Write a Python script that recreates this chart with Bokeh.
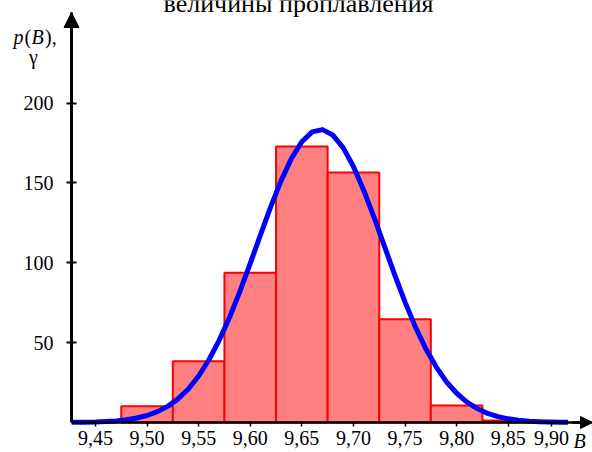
from bokeh.plotting import figure
from bokeh.models import Range1d, FixedTicker, Arrow, NormalHead, Label
from bokeh.embed import file_html
from bokeh.resources import INLINE

# ---- data ----
bin_centers = [9.50, 9.55, 9.60, 9.65, 9.70, 9.75, 9.80, 9.85]
bin_heights = [10.2, 38.4, 93.7, 172.8, 156.5, 64.7, 10.6, 1.3]
bin_width = 0.05

curve_b = [9.427, 9.44, 9.45, 9.46, 9.47, 9.48, 9.49, 9.50, 9.51, 9.52, 9.53, 9.54,
           9.55, 9.56, 9.57, 9.58, 9.59, 9.60, 9.61, 9.62, 9.63, 9.64, 9.65, 9.66,
           9.67, 9.68, 9.69, 9.70, 9.71, 9.72, 9.73, 9.74, 9.75, 9.76, 9.77, 9.78,
           9.79, 9.80, 9.81, 9.82, 9.83, 9.84, 9.85, 9.86, 9.87, 9.88, 9.89, 9.90, 9.908]
curve_p = [0.1, 0.2, 0.3, 0.6, 1.0, 1.7, 2.8, 4.4, 6.8, 10.1, 14.8, 21.0,
           29.1, 39.3, 51.6, 65.9, 82.1, 99.6, 117.6, 135.3, 151.6, 165.4, 175.8, 182.0,
           183.4, 180.0, 172.1, 160.3, 145.3, 128.4, 110.4, 92.5, 75.4, 59.9, 46.4, 35.0,
           25.6, 18.3, 12.8, 8.7, 5.7, 3.7, 2.3, 1.4, 0.8, 0.5, 0.3, 0.15, 0.1]

x_ticks = [9.45, 9.50, 9.55, 9.60, 9.65, 9.70, 9.75, 9.80, 9.85, 9.892]
x_tick_labels = ["9,45", "9,50", "9,55", "9,60", "9,65", "9,70", "9,75", "9,80", "9,85", "9,90"]
y_ticks = [50, 100, 150, 200]
y_tick_labels = ["50", "100", "150", "200"]

title_text = "величины проплавления"

# plotting window (frame covers whole canvas; axes sit at fixed locations)
X_LO, X_HI = 9.35800, 9.93165
Y_LO, Y_HI = -18.785, 264.25
X_AXIS_AT = 9.4268      # where the vertical axis crosses
Y_AXIS_TOP = 256.7      # tip of the vertical arrow

FONT = "'Liberation Serif', 'Times New Roman', 'DejaVu Serif', serif"

p = figure(width=592, height=452, output_backend="svg", toolbar_location=None,
           x_range=Range1d(X_LO, X_HI), y_range=Range1d(Y_LO, Y_HI),
           min_border=0, min_border_left=0, min_border_right=0,
           min_border_top=0, min_border_bottom=0)
p.outline_line_color = None
p.xgrid.visible = False
p.ygrid.visible = False
p.background_fill_color = "white"
p.border_fill_color = "white"

p.vbar(x=bin_centers, top=bin_heights, bottom=0, width=bin_width,
       fill_color="#FF8080", line_color="#FF0000", line_width=2)
p.line(curve_b, curve_p, line_color="#0000FF", line_width=5, line_join="round")

# axes
xa = p.xaxis[0]
xa.fixed_location = 0
xa.bounds = (X_AXIS_AT, X_HI)
xa.ticker = FixedTicker(ticks=x_ticks)
xa.major_label_overrides = {t: l for t, l in zip(x_ticks, x_tick_labels)}
xa.minor_tick_line_color = None
xa.major_tick_in = 0
xa.major_tick_out = 4
xa.major_tick_line_width = 1.5
xa.major_tick_line_color = "black"
xa.axis_line_width = 2.5
xa.axis_line_color = "black"
xa.major_label_standoff = 4
xa.major_label_text_font = FONT
xa.major_label_text_font_size = "20px"
xa.major_label_text_color = "black"

ya = p.yaxis[0]
ya.fixed_location = X_AXIS_AT
ya.bounds = (0, Y_AXIS_TOP)
ya.ticker = FixedTicker(ticks=y_ticks)
ya.major_label_overrides = {t: l for t, l in zip(y_ticks, y_tick_labels)}
ya.minor_tick_line_color = None
ya.major_tick_in = 5
ya.major_tick_out = 5
ya.major_tick_line_width = 2
ya.major_tick_line_color = "black"
ya.axis_line_width = 3
ya.axis_line_color = "black"
ya.major_label_standoff = 13
ya.major_label_text_font = FONT
ya.major_label_text_font_size = "20px"
ya.major_label_text_color = "black"

# arrow heads
p.add_layout(Arrow(end=NormalHead(size=15, fill_color="black", line_color="black", line_width=1),
                   x_start=X_AXIS_AT, y_start=Y_AXIS_TOP - 15, x_end=X_AXIS_AT, y_end=Y_AXIS_TOP,
                   line_color="black", line_width=3))
p.add_layout(Arrow(end=NormalHead(size=12, fill_color="black", line_color="black", line_width=1),
                   x_start=X_HI - 0.02, y_start=0, x_end=X_HI, y_end=0,
                   line_color="black", line_width=2.5))

def lab(text, x, y, style="normal", size="20px", align="left", baseline="alphabetic"):
    p.add_layout(Label(x=x, y=y, text=text, text_font=FONT, text_font_size=size,
                       text_font_style=style, text_align=align, text_baseline=baseline,
                       text_color="black"))

# title (cut off at top of picture, as in the reference)
lab(title_text, 9.6468, 262.3, size="26px", align="center")
# y label p(B), γ
lab("p", 9.37060, 241.1, style="italic")
lab("(", 9.38126, 241.1)
lab("B", 9.38804, 241.1, style="italic")
lab("),", 9.40112, 241.1)
lab("γ", 9.39000, 229.0, align="center")
# x label B
lab("B", 9.91323, -11.5, style="italic")

open("out.html", "w").write(file_html(p, INLINE))
